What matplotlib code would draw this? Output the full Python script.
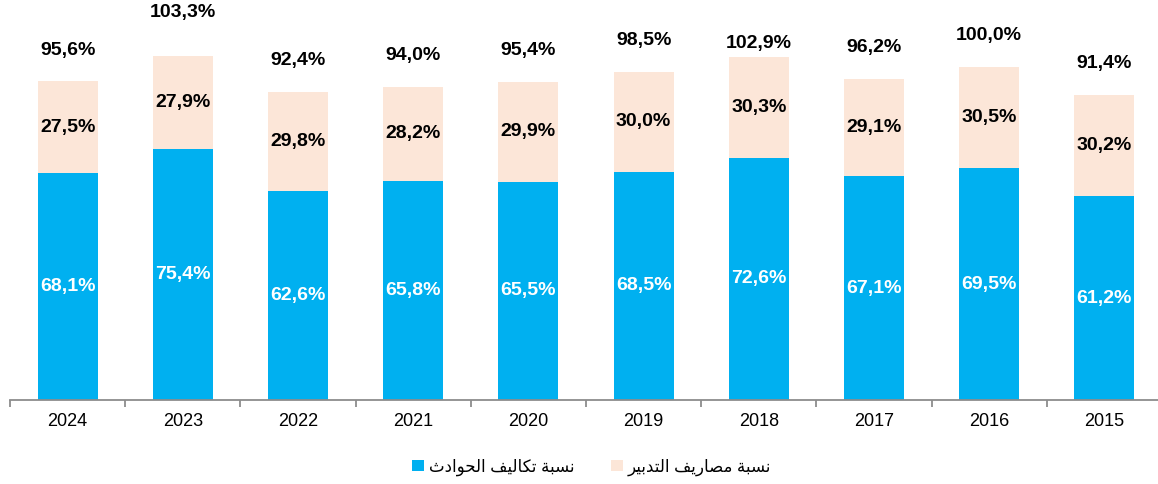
import numpy as np
import matplotlib.pyplot as plt

years = ["2024", "2023", "2022", "2021", "2020", "2019", "2018", "2017", "2016", "2015"]
claims = [68.1, 75.4, 62.6, 65.8, 65.5, 68.5, 72.6, 67.1, 69.5, 61.2]
expenses = [27.5, 27.9, 29.8, 28.2, 29.9, 30.0, 30.3, 29.1, 30.5, 30.2]
totals = [95.6, 103.3, 92.4, 94.0, 95.4, 98.5, 102.9, 96.2, 100.0, 91.4]

label_claims = "نسبة تكاليف الحوادث"
label_expenses = "نسبة مصاريف التدبير"

BLUE = "#00B0F0"
BEIGE = "#FCE6D8"

# minimal arabic shaping: presentation forms (iso, fin, ini, med), then reverse
FORMS = {
    "ا": ("\uFE8D", "\uFE8E", None, None),
    "ب": ("\uFE8F", "\uFE90", "\uFE91", "\uFE92"),
    "ة": ("\uFE93", "\uFE94", None, None),
    "ت": ("\uFE95", "\uFE96", "\uFE97", "\uFE98"),
    "ث": ("\uFE99", "\uFE9A", "\uFE9B", "\uFE9C"),
    "ح": ("\uFEA1", "\uFEA2", "\uFEA3", "\uFEA4"),
    "د": ("\uFEA9", "\uFEAA", None, None),
    "ر": ("\uFEAD", "\uFEAE", None, None),
    "س": ("\uFEB1", "\uFEB2", "\uFEB3", "\uFEB4"),
    "ص": ("\uFEB9", "\uFEBA", "\uFEBB", "\uFEBC"),
    "ف": ("\uFED1", "\uFED2", "\uFED3", "\uFED4"),
    "ك": ("\uFED9", "\uFEDA", "\uFEDB", "\uFEDC"),
    "ل": ("\uFEDD", "\uFEDE", "\uFEDF", "\uFEE0"),
    "م": ("\uFEE1", "\uFEE2", "\uFEE3", "\uFEE4"),
    "ن": ("\uFEE5", "\uFEE6", "\uFEE7", "\uFEE8"),
    "و": ("\uFEED", "\uFEEE", None, None),
    "ي": ("\uFEF1", "\uFEF2", "\uFEF3", "\uFEF4"),
}


def shape(s):
    out = []
    for i, ch in enumerate(s):
        if ch not in FORMS:
            out.append(ch)
            continue
        prev = s[i - 1] if i > 0 else None
        nxt = s[i + 1] if i < len(s) - 1 else None
        jp = prev in FORMS and FORMS[prev][2] is not None
        jn = nxt in FORMS and FORMS[ch][2] is not None
        f = FORMS[ch]
        if jp and jn:
            out.append(f[3])
        elif jp:
            out.append(f[1])
        elif jn:
            out.append(f[2])
        else:
            out.append(f[0])
    return "".join(reversed(out))


def pct(v):
    return f"{v:.1f}%".replace(".", ",")


plt.rcParams["font.family"] = ["Liberation Sans", "DejaVu Sans"]

fig = plt.figure(figsize=(11.58, 4.84), dpi=100)
ax = fig.add_axes([10 / 1158, 84 / 484, 1152 / 1158, 400 / 484])

x = np.arange(len(years))
w = 0.52
ax.bar(x, claims, w, color=BLUE, label=shape(label_claims))
ax.bar(x, expenses, w, bottom=claims, color=BEIGE, label=shape(label_expenses))

# total labels sit above the bar; two are placed differently in the source
offsets = [9.4] * len(years)
offsets[1] = 12.9
offsets[6] = 4.0

for i in range(len(years)):
    ax.text(x[i], claims[i] / 2, pct(claims[i]), ha="center", va="center",
            color="white", fontsize=14, fontweight="bold")
    ax.text(x[i], claims[i] + expenses[i] / 2, pct(expenses[i]), ha="center",
            va="center", color="black", fontsize=14, fontweight="bold")
    ax.text(x[i], totals[i] + offsets[i], pct(totals[i]), ha="center",
            va="center", color="black", fontsize=14, fontweight="bold")

ax.set_xlim(-0.5, len(years) - 0.5)
ax.set_ylim(0, 120)
ax.set_yticks([])
for s in ["top", "right", "left"]:
    ax.spines[s].set_visible(False)
ax.spines["bottom"].set_color("#8c8c8c")
ax.spines["bottom"].set_linewidth(1.3)

ax.set_xticks(np.arange(-0.5, len(years)), labels=[""] * (len(years) + 1))
ax.tick_params(axis="x", which="major", length=5, width=1.3, color="#8c8c8c")
ax.set_xticks(x, labels=years, minor=True)
ax.tick_params(axis="x", which="minor", length=0, labelsize=13, pad=9)

ax.legend(loc="center", bbox_to_anchor=(592 / 1158, 17 / 484),
          bbox_transform=fig.transFigure, ncol=2, frameon=False,
          fontsize=12, handlelength=0.7, handleheight=0.7, handletextpad=0.3,
          columnspacing=2.2)

fig.savefig("out.png", dpi=100)
